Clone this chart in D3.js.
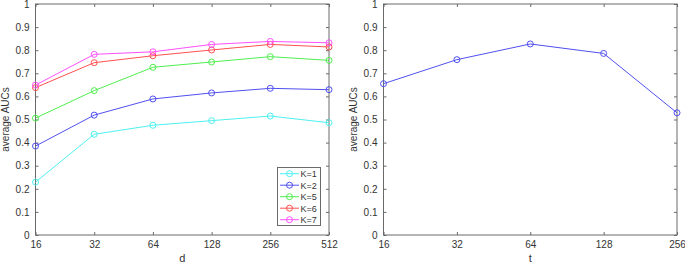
<!DOCTYPE html>
<html><head><meta charset="utf-8">
<script src="https://cdn.jsdelivr.net/npm/d3@7"></script>
<style>body{margin:0;background:#fff;} text{font-family:"Liberation Sans",Arial,sans-serif;}</style>
</head><body><svg id="c" width="685" height="263"></svg>
<script>
const dLabels = ["16","32","64","128","256","512"];
const k1 = [0.229,0.436,0.475,0.495,0.515,0.486];
const k2 = [0.385,0.519,0.589,0.615,0.635,0.629];
const k5 = [0.506,0.625,0.726,0.749,0.772,0.756];
const k6 = [0.638,0.746,0.776,0.801,0.825,0.814];
const k7 = [0.649,0.782,0.793,0.825,0.838,0.832];
const seriesNames = ["K=1","K=2","K=5","K=6","K=7"];
const seriesColors = ["#4ff0f0","#5050f0","#50ee50","#ff5050","#ff50ff"];
const tLabels = ["16","32","64","128","256"];
const tValues = [0.655,0.759,0.827,0.786,0.529];
const yTicks = [0,0.1,0.2,0.3,0.4,0.5,0.6,0.7,0.8,0.9,1];

const svg = d3.select("#c");
const axisColor = "#6a6a6a", textColor = "#333";
const plotTop = 4, plotBottom = 235;
const y = d3.scaleLinear().domain([0,1]).range([plotBottom, plotTop]);

function panel(x0, x1, cats, xlabel) {
  const x = d3.scalePoint().domain(cats).range([x0, x1]).padding(0);
  const g = svg.append("g");
  g.append("rect").attr("x", x0).attr("y", plotTop).attr("width", x1-x0).attr("height", plotBottom-plotTop)
    .attr("fill","none").attr("stroke",axisColor).attr("stroke-width",1);
  const xb = g.append("g").attr("transform",`translate(0,${plotBottom})`)
    .call(d3.axisBottom(x).tickSizeInner(-3).tickSizeOuter(0).tickPadding(6));
  const xt = g.append("g").attr("transform",`translate(0,${plotTop})`)
    .call(d3.axisTop(x).tickSizeInner(-3).tickSizeOuter(0).tickFormat(""));
  const yl = g.append("g").attr("transform",`translate(${x0},0)`)
    .call(d3.axisLeft(y).tickValues(yTicks).tickFormat(d3.format("~g")).tickSizeInner(-3).tickSizeOuter(0).tickPadding(6));
  const yr = g.append("g").attr("transform",`translate(${x1},0)`)
    .call(d3.axisRight(y).tickValues(yTicks).tickSizeInner(-3).tickSizeOuter(0).tickFormat(""));
  [xb,xt,yl,yr].forEach(a=>{
    a.select(".domain").remove();
    a.selectAll("line").attr("stroke",axisColor);
    a.selectAll("text").attr("fill",textColor).style("font-size","10px").style("font-family","Liberation Sans, Arial, sans-serif");
  });
  g.append("text").attr("x",(x0+x1)/2).attr("y",262).attr("text-anchor","middle")
    .attr("fill",textColor).style("font-size","11px").text(xlabel);
  g.append("text").attr("transform",`translate(${x0-27},${(plotTop+plotBottom)/2}) rotate(-90)`)
    .attr("text-anchor","middle").attr("fill",textColor).style("font-size","10px").text("average AUCs");
  return x;
}

function drawSeries(x, cats, vals, color) {
  const line = d3.line().x((d,i)=>x(cats[i])).y(d=>y(d));
  svg.append("path").datum(vals).attr("d",line).attr("fill","none").attr("stroke",color).attr("stroke-width",1);
  svg.append("g").selectAll("circle").data(vals).join("circle")
    .attr("cx",(d,i)=>x(cats[i])).attr("cy",d=>y(d)).attr("r",3)
    .attr("fill","none").attr("stroke",color).attr("stroke-width",1);
}

const xL = panel(35.5, 329, dLabels, "d");
const allK = [k1,k2,k5,k6,k7];
allK.forEach((v,i)=>drawSeries(xL, dLabels, v, seriesColors[i]));

const xR = panel(383.5, 677, tLabels, "t");
drawSeries(xR, tLabels, tValues, "#5050f0");

const lg = svg.append("g");
lg.append("rect").attr("x",277.5).attr("y",167.5).attr("width",43).attr("height",58)
  .attr("fill","#fff").attr("stroke",axisColor).attr("stroke-width",1);
seriesNames.forEach((n,i)=>{
  const yy = 173.7 + i*11.5;
  lg.append("line").attr("x1",280).attr("x2",299).attr("y1",yy).attr("y2",yy).attr("stroke",seriesColors[i]).attr("stroke-width",1);
  lg.append("circle").attr("cx",289.5).attr("cy",yy).attr("r",3).attr("fill","none").attr("stroke",seriesColors[i]);
  lg.append("text").attr("x",300.5).attr("y",yy+3.3).attr("fill",textColor).style("font-size","9px").text(n);
});
</script></body></html>
